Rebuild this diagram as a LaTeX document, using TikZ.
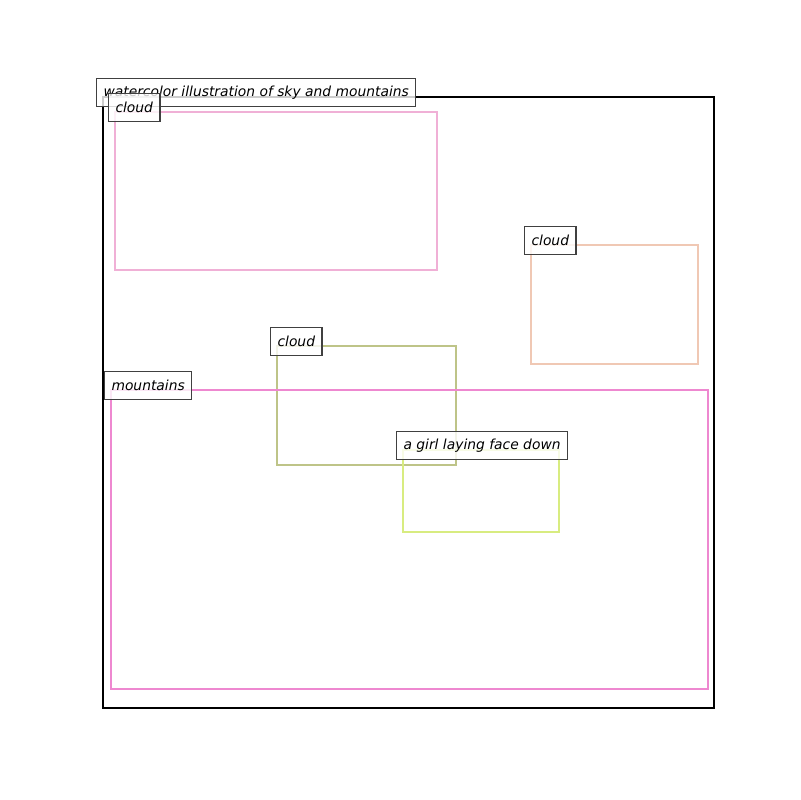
\documentclass[tikz,border=0pt]{standalone}
\usepackage{fontspec}
\setmainfont{DejaVu Sans}
\definecolor{cloudpink}{RGB}{240,176,214}
\definecolor{cloudpeach}{RGB}{240,200,180}
\definecolor{cloudolive}{RGB}{190,196,136}
\definecolor{mountpink}{RGB}{238,136,208}
\definecolor{girlgreen}{RGB}{216,236,128}
\definecolor{tagline}{RGB}{64,64,64}
\begin{document}
\begin{tikzpicture}[x=0.01in, y=-0.01in, line join=miter,
	region/.style={line width=1.6pt},
	tag/.style={draw=tagline, line width=0.8pt, fill=white, fill opacity=0.8, text opacity=1, font=\itshape\fontsize{10}{12}\selectfont, anchor=south west, minimum height=20.16pt, inner xsep=5.04pt, inner ysep=0pt}]
	
	\useasboundingbox (0, 0) rectangle (800, 800);
	
	% Khung ảnh
	\draw[line width=1.6pt] (103, 97) rectangle (714, 708);
	
	% Các vùng
	\draw[region, draw=cloudpink] (115, 112) rectangle (437, 270);
	\draw[region, draw=cloudpeach] (531, 245) rectangle (698, 364);
	\draw[region, draw=cloudolive] (277, 346) rectangle (456, 465);
	\draw[region, draw=mountpink] (111, 390) rectangle (708, 689);
	\draw[region, draw=girlgreen] (403, 450) rectangle (559, 532);
	
	% Nhãn
	\node[tag] (scene) at (96, 107) {watercolor illustration of sky and mountains};
	\node[tag] (cloudA) at (108, 122) {cloud};
	\node[tag] (cloudB) at (524, 255) {cloud};
	\node[tag] (cloudC) at (270, 356) {cloud};
	\node[tag] (mount) at (104, 400) {mountains};
	\node[tag] (girl) at (396, 460) {a girl laying face down};
	
\end{tikzpicture}
\end{document}
